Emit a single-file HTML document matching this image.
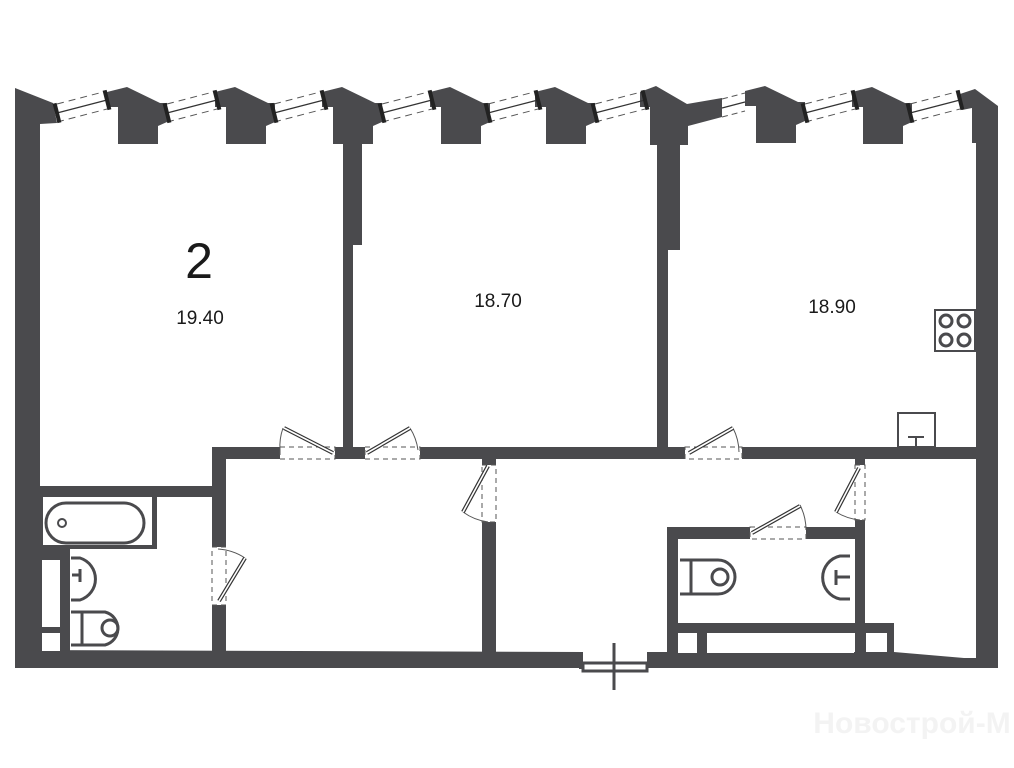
<!DOCTYPE html>
<html><head><meta charset="utf-8"><style>
html,body{margin:0;padding:0;background:#fff;}
svg{display:block}
text{font-family:"Liberation Sans",sans-serif;fill:#1a1a1a}
</style></head><body>
<svg width="1014" height="768" viewBox="0 0 1014 768" xmlns="http://www.w3.org/2000/svg">
<defs>
<g id="pier">
  <polygon points="0,5 20,0 53,16 60,16 60,35 51,39 51,57 11,57 11,20 0,20" fill="#4a4a4d"/>
</g>
<g id="win">
  <line x1="0" y1="0" x2="50" y2="-13" stroke="#333" stroke-width="1.2"/>
  <line x1="0" y1="-9" x2="50" y2="-22" stroke="#555" stroke-width="1" stroke-dasharray="7,5"/>
  <line x1="0" y1="9" x2="50" y2="-4" stroke="#555" stroke-width="1" stroke-dasharray="7,5"/>
  <rect x="-2" y="-10" width="4" height="20" fill="#222" transform="rotate(-14)"/>
  <rect x="48" y="-23" width="4" height="20" fill="#222" transform="rotate(-14 50 -13)"/>
</g>
</defs>
<g fill="#4a4a4d">
  <polygon points="15,88 53,103 57,123 40,124 40,652 15,652"/>
  <use href="#pier" x="107" y="87"/>
  <use href="#pier" x="215" y="87"/>
  <use href="#pier" x="322" y="87"/>
  <use href="#pier" x="430" y="87"/>
  <use href="#pier" x="535" y="87"/>
  <polygon points="640,92 656,86 687,104 722,98 722,117 688,126 688,145 650,145 650,107 640,107"/>
  <use href="#pier" x="745" y="86"/>
  <use href="#pier" x="852" y="87"/>
  <polygon points="960,94 975,89 998,106 998,668 976,668 976,143 972,143 972,108 962,110"/>
  <rect x="343" y="140" width="19" height="105"/>
  <rect x="343" y="140" width="10" height="315"/>
  <rect x="657" y="140" width="23" height="110"/>
  <rect x="657" y="140" width="11" height="315"/>
  <rect x="212" y="447" width="68" height="12"/>
  <rect x="335" y="447" width="30" height="12"/>
  <rect x="420" y="447" width="265" height="12"/>
  <rect x="742" y="447" width="240" height="12"/>
  <rect x="40" y="486" width="186" height="11"/>
  <rect x="212" y="447" width="14" height="100"/>
  <rect x="212" y="605" width="14" height="50"/>
  <rect x="482" y="459" width="14" height="6"/>
  <rect x="482" y="522" width="14" height="133"/>
  <rect x="855" y="459" width="10" height="6"/>
  <rect x="855" y="520" width="10" height="135"/>
  <rect x="40" y="545" width="117" height="4"/>
  <rect x="40" y="497" width="3" height="50"/>
  <rect x="152" y="497" width="5" height="50"/>
  <rect x="40" y="549" width="30" height="105"/>
  <rect x="667" y="527" width="83" height="12"/>
  <rect x="806" y="527" width="59" height="12"/>
  <rect x="667" y="527" width="11" height="128"/>
  <rect x="667" y="623" width="227" height="10"/>
  <rect x="855" y="623" width="39" height="30"/>
  <rect x="697" y="633" width="10" height="22"/>
  <polygon points="15,650 583,652 583,668 15,668"/>
  <polygon points="647,652 894,652 964,658 998,658 998,668 647,668"/>
  <rect x="579" y="663" width="4" height="6"/>
</g>
<g fill="#fff">
  <rect x="42" y="560" width="18" height="67"/>
  <rect x="42" y="633" width="18" height="18"/>
  <rect x="678" y="633" width="19" height="20"/>
  <rect x="707" y="633" width="147" height="20"/>
  <rect x="866" y="633" width="21" height="19"/>
</g>
<g>
  <use href="#win" x="57" y="113"/>
  <use href="#win" x="167" y="113"/>
  <use href="#win" x="274" y="113"/>
  <use href="#win" x="382" y="113"/>
  <use href="#win" x="488" y="113"/>
  <use href="#win" x="595" y="113"/>
  <use href="#win" x="805" y="113"/>
  <use href="#win" x="910" y="113"/>
  <line x1="722" y1="108" x2="745" y2="102" stroke="#333" stroke-width="1.2"/>
  <line x1="722" y1="99" x2="745" y2="93" stroke="#555" stroke-dasharray="6,4"/>
  <line x1="722" y1="117" x2="745" y2="111" stroke="#555" stroke-dasharray="6,4"/>
</g>
<g fill="none" stroke="#4a4a4d" stroke-width="3">
  <rect x="46" y="503" width="98" height="40" rx="20"/>
  <circle cx="62" cy="523" r="4" stroke-width="2"/>
  <path d="M71,558 L80,558 A22,22 0 0 1 80,600 L71,600"/>
  <path d="M80,569 v13 M80,575 h-8"/>
  <path d="M71,612 L105,612 A17,17 0 0 1 105,645 L71,645 M82,612 v33"/>
  <circle cx="110" cy="628" r="8"/>
  <path d="M680,560 L718,560 A17,17 0 0 1 718,594 L680,594 M691,560 v34"/>
  <circle cx="720" cy="577" r="8"/>
  <path d="M850,556 L840,556 A22,22 0 0 0 840,599 L850,599"/>
  <path d="M836,570 v15 M836,577 h14"/>
  <rect x="935" y="310" width="40" height="41" stroke-width="2"/>
  <circle cx="946" cy="321" r="6"/><circle cx="964" cy="321" r="6"/>
  <circle cx="946" cy="340" r="6"/><circle cx="964" cy="340" r="6"/>
  <rect x="898" y="413" width="37" height="34" stroke-width="2"/>
  <path d="M908,437 h16 M916,437 v10" stroke-width="2"/>
</g>
<g fill="none" stroke="#555" stroke-width="1">
  <rect x="280" y="447" width="55" height="12" stroke-dasharray="5,4"/>
  <rect x="365" y="447" width="55" height="12" stroke-dasharray="5,4"/>
  <rect x="685" y="447" width="57" height="12" stroke-dasharray="5,4"/>
  <rect x="482" y="465" width="14" height="57" stroke-dasharray="5,4"/>
  <rect x="212" y="547" width="14" height="58" stroke-dasharray="5,4"/>
  <rect x="855" y="465" width="10" height="55" stroke-dasharray="5,4"/>
  <rect x="750" y="527" width="56" height="12" stroke-dasharray="5,4"/>
  <path d="M283,428 A55,55 0 0 0 280,450"/>
  <path d="M410,428 A55,55 0 0 1 418,450"/>
  <path d="M733,428 A55,55 0 0 1 739,452"/>
  <path d="M463,512 A55,55 0 0 0 488,522"/>
  <path d="M245,558 A55,55 0 0 0 218,549"/>
  <path d="M836,512 A55,55 0 0 0 860,520"/>
  <path d="M800,505 A55,55 0 0 1 806,530"/>
</g>
<g stroke="#333" stroke-width="4">
  <line x1="333" y1="453" x2="284" y2="428"/>
  <line x1="367" y1="453" x2="410" y2="428"/>
  <line x1="689" y1="453" x2="733" y2="428"/>
  <line x1="488" y1="466" x2="463" y2="512"/>
  <line x1="219" y1="601" x2="245" y2="558"/>
  <line x1="859" y1="468" x2="836" y2="512"/>
  <line x1="752" y1="533" x2="800" y2="506"/>
</g>
<g stroke="#fff" stroke-width="1.6">
  <line x1="333" y1="453" x2="284" y2="428"/>
  <line x1="367" y1="453" x2="410" y2="428"/>
  <line x1="689" y1="453" x2="733" y2="428"/>
  <line x1="488" y1="466" x2="463" y2="512"/>
  <line x1="219" y1="601" x2="245" y2="558"/>
  <line x1="859" y1="468" x2="836" y2="512"/>
  <line x1="752" y1="533" x2="800" y2="506"/>
</g>
<rect x="583" y="663" width="64" height="8" fill="none" stroke="#4a4a4d" stroke-width="3"/>
<line x1="614" y1="643" x2="614" y2="690" stroke="#4a4a4d" stroke-width="3"/>
<text x="199" y="278" font-size="50" text-anchor="middle">2</text>
<text x="200" y="324" font-size="19" text-anchor="middle">19.40</text>
<text x="498" y="307" font-size="19" text-anchor="middle">18.70</text>
<text x="832" y="313" font-size="19" text-anchor="middle">18.90</text>
<text x="912" y="733" font-size="30" text-anchor="middle" style="fill:#f3f3f3;font-weight:bold">Новострой-М</text>
</svg>
</body></html>
